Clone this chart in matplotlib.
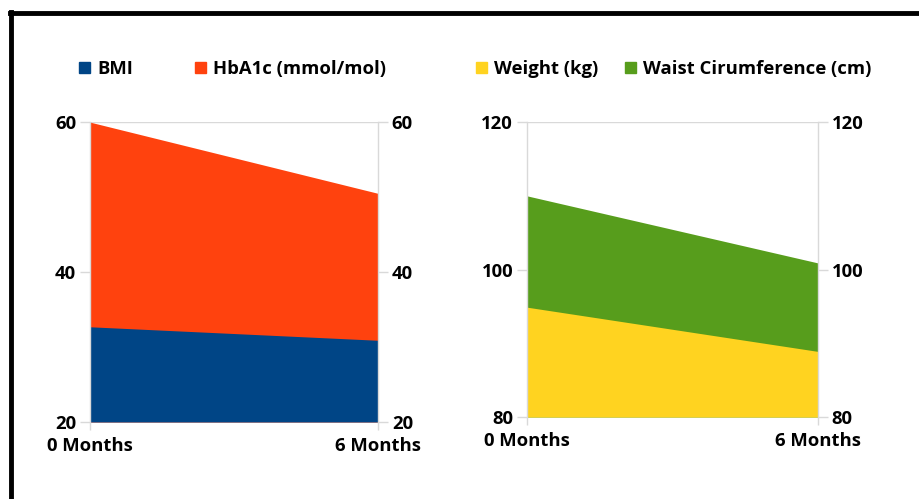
import matplotlib
matplotlib.use("Agg")
import matplotlib.pyplot as plt
from matplotlib.patches import Patch
from matplotlib.lines import Line2D

plt.rcParams['font.family'] = ['Open Sans', 'DejaVu Sans']
plt.rcParams['font.weight'] = 'bold'

# ---------------------------------------------------------------------------
# DATA
# ---------------------------------------------------------------------------
timepoints = ["0 Months", "6 Months"]
bmi        = [32.7, 30.9]
hba1c      = [60.0, 50.5]
weight     = [94.9, 88.9]
waist      = [110.0, 100.9]

left_ticks  = [20, 40, 60]
right_ticks = [80, 100, 120]

C_BMI   = '#004586'
C_HBA   = '#ff420e'
C_WT    = '#ffd320'
C_WAIST = '#579d1c'
GRID    = '#d9d9d9'
FS      = 13.3

fig = plt.figure(figsize=(9.19, 4.99), dpi=100)

ax1 = fig.add_axes([0.0979, 0.1543, 0.3134, 0.601])
ax2 = fig.add_axes([0.5734, 0.1643, 0.3166, 0.591])

x = [0, 1]


def style(ax, ticks, series):
    lo, hi = ticks[0], ticks[-1]
    # back series first, front series on top
    for vals, col in series:
        ax.fill_between(x, lo, vals, color=col, lw=0, zorder=2)
    ax.set_xlim(0, 1)
    ax.set_ylim(lo, hi)
    ax.set_yticks(ticks)
    ax.set_xticks(x)
    ax.set_xticklabels(timepoints, fontsize=FS, fontweight='bold')
    ax.set_yticklabels([str(t) for t in ticks], fontsize=FS, fontweight='bold')
    ax.tick_params(axis='y', left=True, right=True, labelleft=True, labelright=True,
                   length=7, width=1, color=GRID, pad=3)
    ax.tick_params(axis='x', length=6, width=1, color=GRID, pad=5)
    ax.yaxis.grid(True, color=GRID, lw=1, zorder=0)
    for s in ['top', 'bottom']:
        ax.spines[s].set_visible(False)
    for s in ['left', 'right']:
        ax.spines[s].set_color(GRID)
        ax.spines[s].set_linewidth(1)
    ax.set_axisbelow(True)


style(ax1, left_ticks, [(hba1c, C_HBA), (bmi, C_BMI)])
style(ax2, right_ticks, [(waist, C_WAIST), (weight, C_WT)])

# legend entries, one per series, placed like the original
leg_items = [("BMI", C_BMI, 79), ("HbA1c (mmol/mol)", C_HBA, 195),
             ("Weight (kg)", C_WT, 476), ("Waist Cirumference (cm)", C_WAIST, 625)]
for label, col, px in leg_items:
    fig.legend([Patch(color=col)], [label], loc='center left',
               bbox_to_anchor=(px / 919, 1 - 69 / 499), frameon=False,
               handlelength=0.58, handleheight=0.58, handletextpad=0.4,
               borderaxespad=0, borderpad=0,
               prop={'family': ['Open Sans', 'DejaVu Sans'], 'weight': 'bold', 'size': FS})

# black frame lines (top and left)
fig.add_artist(Line2D([0.0109, 1.0], [0.973, 0.973], color='black', lw=3.5,
                      transform=fig.transFigure))
fig.add_artist(Line2D([0.0125, 0.0125], [0.0, 0.975], color='black', lw=3.5,
                      transform=fig.transFigure))

fig.savefig("out.png", dpi=100)
